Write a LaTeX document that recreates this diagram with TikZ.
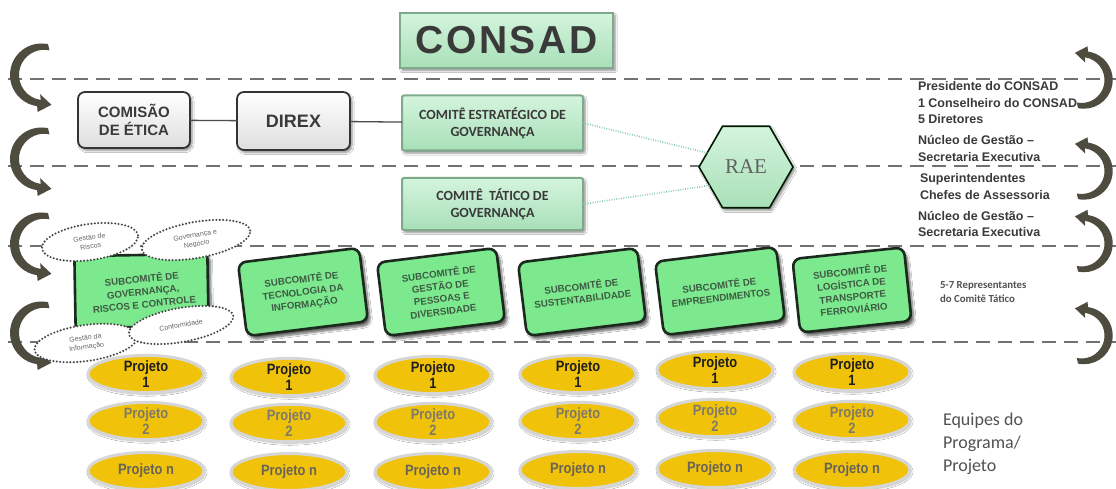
\documentclass[tikz,border=0pt]{standalone}
\usepackage{fontspec}
\setmainfont{Liberation Sans}
\newfontfamily\calibfont{Carlito}
\newfontfamily\raefont{Liberation Serif}
\newfontfamily\narrowfont[FakeStretch=0.86]{Liberation Sans}
\newfontfamily\spacedfont[LetterSpace=7]{Liberation Sans}
\usetikzlibrary{shapes.geometric,shadows.blur}

\definecolor{dashgray}{HTML}{717171}
\definecolor{arrowdark}{HTML}{4E4C3F}
\definecolor{mintlight}{HTML}{D4F4DD}
\definecolor{mintmid}{HTML}{A8E0B8}
\definecolor{mintedge}{HTML}{7FA98B}
\definecolor{subgreen}{HTML}{7CE98E}
\definecolor{subborder}{HTML}{1C2A1D}
\definecolor{subtext}{HTML}{3E5A42}
\definecolor{projyellow}{HTML}{F1C20A}
\definecolor{textgray}{HTML}{3A3A3A}
\definecolor{dotteal}{HTML}{7FC6B3}
\definecolor{projdark}{HTML}{1E1E1E}
\definecolor{projmid}{HTML}{7E7A6A}
\definecolor{projlow}{HTML}{686457}

\tikzset{
  sepline/.style={draw=dashgray, line width=1.8pt, dash pattern=on 14pt off 8pt},
  turnarrow/.pic={
    \fill[arrowdark] (78:35) arc[start angle=78, end angle=262, radius=35]
      -- (-4.3,-41.1) -- (11,-33.1) -- (-1.5,-21.3) -- (-0.9,-27.7)
      arc[start angle=262, end angle=78, radius=28] -- cycle;
  },
  softshadow/.style={blur shadow={shadow xshift=2pt, shadow yshift=-2.5pt,
      shadow blur steps=6, shadow opacity=45}},
  consadbox/.style={minimum width=213pt, minimum height=55pt,
      top color=mintlight, bottom color=mintmid, draw=mintedge, line width=2.5pt,
      softshadow, text=textgray,
      font=\spacedfont\bfseries\fontsize{39}{39}\selectfont},
  whitebox/.style={rounded corners=7pt, draw=black!80, line width=1.8pt,
      top color=white, bottom color=black!13, softshadow, align=center,
      text=textgray},
  comitebox/.style={minimum width=181pt, rounded corners=2pt,
      top color=mintlight, bottom color=mintmid, draw=mintedge, line width=2pt,
      softshadow, align=center, text=textgray,
      font=\calibfont\bfseries\fontsize{14}{17}\selectfont},
  subbox/.style={rounded corners=8pt, fill=subgreen, draw=subborder,
      line width=2.6pt, minimum height=74pt,
      blur shadow={shadow xshift=3pt, shadow yshift=-4pt, shadow blur steps=8,
      shadow opacity=60}, align=center, text=subtext,
      font=\bfseries\fontsize{9.7}{12.6}\selectfont},
  topicell/.style={ellipse, fill=white, draw=black!72, line width=2.3pt,
      dash pattern=on 0pt off 3.4pt, line cap=round, align=center,
      text=black!60, font=\fontsize{7}{9}\selectfont},
  projell/.style={ellipse, minimum width=116pt, minimum height=37pt,
      fill=projyellow, draw=black!16, line width=3pt,
      blur shadow={shadow xshift=1pt, shadow yshift=-1.5pt, shadow blur steps=4,
      shadow opacity=35}, align=center,
      font=\narrowfont\bfseries\fontsize{15}{15.5}\selectfont},
  sidetext/.style={anchor=west, align=left, text=textgray,
      font=\bfseries\fontsize{12.5}{16.5}\selectfont},
  conn/.style={draw=black!70, line width=1.3pt},
  raelink/.style={draw=dotteal, line width=1.6pt, dash pattern=on 0.8pt off 1.6pt},
}

\begin{document}
\begin{tikzpicture}[x=1pt, y=-1pt, every node/.style={inner sep=0pt, outer sep=0pt}]
\useasboundingbox (0,0) rectangle (1116,489);
\fill[white] (0,0) rectangle (1116,489);

% level separators
\foreach \yy in {79,166,246,342}
  \draw[sepline] (8,\yy) -- (1116,\yy);

% turning arrows on both margins
\foreach \cy in {75,159,244,333}
  \pic[scale=0.9, yscale=-1] at (41.5,\cy) {turnarrow};
\foreach \cy in {80,171,243.5,335.5}
  \pic[scale=0.82, yscale=-1, rotate=180] at (1084,\cy) {turnarrow};

% board
\node[consadbox] (consad) at (506.5,40.5) {CONSAD};

% strategic level
\node[whitebox, minimum width=112pt, minimum height=56pt,
      font=\bfseries\fontsize{15}{18}\selectfont] (etica) at (134,120) {COMISÃO\\DE ÉTICA};
\node[whitebox, minimum width=113pt, minimum height=58pt,
      font=\bfseries\fontsize{18}{18}\selectfont] (direx) at (293.5,121) {DIREX};
\node[comitebox, minimum height=55pt] (ce) at (492.5,123) {COMITÊ ESTRATÉGICO DE\\GOVERNANÇA};
\node[comitebox, minimum height=52pt] (ct) at (492.5,204) {COMITÊ\ \ TÁTICO DE\\GOVERNANÇA};

\draw[conn] (etica) -- (direx);
\draw[conn] (direx) -- (ce);

% executive secretariat
\node[regular polygon, regular polygon sides=6, minimum size=94pt,
      top color=mintlight, bottom color=mintmid, draw=black!75!green!40!black,
      line width=1.6pt, softshadow, text=black!62,
      font=\raefont\fontsize{21}{21}\selectfont] (rae) at (746,167) {RAE};
\draw[raelink] (ce.east) -- (rae.160);
\draw[raelink] (ct.east) -- (rae.207);

% roles per level
\node[sidetext] (roles1) at (918,103) {Presidente do CONSAD\\1 Conselheiro do CONSAD\\5 Diretores};
\node[sidetext] (roles2) at (918,148.5) {Núcleo de Gestão –\\Secretaria Executiva};
\node[sidetext] (roles3) at (920,186.5) {Superintendentes\\Chefes de Assessoria};
\node[sidetext] (roles4) at (918,224) {Núcleo de Gestão –\\Secretaria Executiva};
\node[anchor=west, align=left, text=black!68,
      font=\calibfont\bfseries\fontsize{10.8}{14}\selectfont] (roles5) at (940,292)
      {5-7 Representantes\\do Comitê Tático};
\node[anchor=west, align=left, text=black!68,
      font=\calibfont\fontsize{18}{23}\selectfont] (teams) at (943,444)
      {Equipes do\\Programa/\\Projeto};

% subcommittees
\node[subbox, minimum width=133pt, minimum height=72pt, rounded corners=3pt,
      rotate=1] (sub1) at (141.5,291) {};
\node[text=subtext, align=center, rotate=6,
      font=\bfseries\fontsize{9.7}{12.6}\selectfont] (sub1txt) at (143,291)
      {SUBCOMITÊ DE\\GOVERNANÇA,\\RISCOS E CONTROLE};
\node[subbox, minimum width=122pt, rotate=7] (sub2) at (303,292) {SUBCOMITÊ DE\\TECNOLOGIA DA\\INFORMAÇÃO};
\node[subbox, minimum width=120pt, rotate=7] (sub3) at (441,292) {SUBCOMITÊ DE\\GESTÃO DE\\PESSOAS E\\DIVERSIDADE};
\node[subbox, minimum width=120pt, rotate=7] (sub4) at (582,292) {SUBCOMITÊ DE\\SUSTENTABILIDADE};
\node[subbox, minimum width=122pt, rotate=7] (sub5) at (720,291) {SUBCOMITÊ DE\\EMPREENDIMENTOS};
\node[subbox, minimum width=112pt, rotate=6] (sub6) at (852,290) {SUBCOMITÊ DE\\LOGÍSTICA DE\\TRANSPORTE\\FERROVIÁRIO};

% topics of the governance subcommittee
\node[topicell, minimum width=97pt, minimum height=36pt, rotate=8] (topic1) at (90,242) {Gestão de\\Riscos};
\node[topicell, minimum width=110pt, minimum height=36pt, rotate=10] (topic2) at (196,240) {Governança e\\Negócio};
\node[topicell, minimum width=104pt, minimum height=36pt, rotate=8] (topic3) at (86,343) {Gestão da\\Informação};
\node[topicell, minimum width=106pt, minimum height=34pt, rotate=10] (topic4) at (181,325) {Conformidade};

% project teams
\foreach \c/\x/\ya/\yb/\yc in {1/146/374/421/471, 2/289/377/423/472, 3/433/375/422/472,
                              4/578/374/421/470, 5/715/370/418/469, 6/852/372/420/470} {
  \node[projell, text=projdark] (proj-\c-1) at (\x,\ya) {Projeto\\1};
  \node[projell, text=projmid] (proj-\c-2) at (\x,\yb) {Projeto\\2};
  \node[projell, text=projlow] (proj-\c-n) at (\x,\yc) {Projeto n};
}
\end{tikzpicture}
\end{document}
